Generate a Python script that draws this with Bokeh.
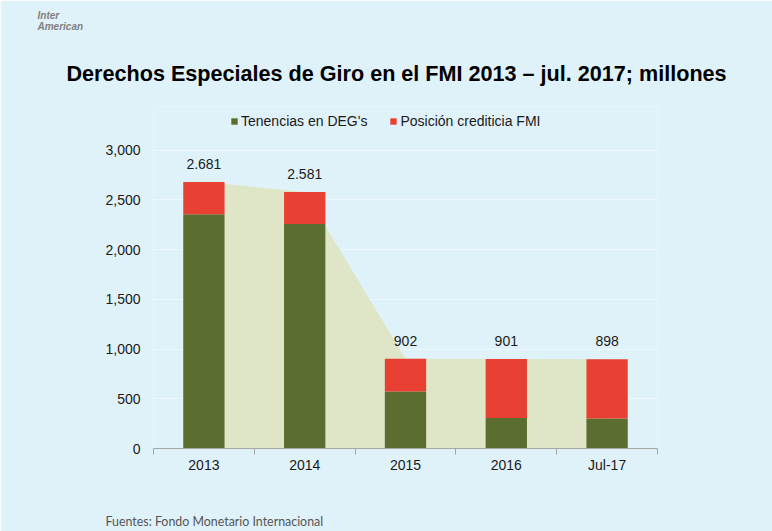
from bokeh.plotting import figure
from bokeh.models import (Range1d, FixedTicker, NumeralTickFormatter, ColumnDataSource,
                          LabelSet, Title, Legend, LegendItem)
from bokeh.core.properties import value
from bokeh.embed import file_html
from bokeh.resources import INLINE

categories = ["2013", "2014", "2015", "2016", "Jul-17"]
tenencias = [2357, 2257, 573, 307, 303]
posicion = [324, 324, 329, 594, 595]
totals = [2681, 2581, 902, 901, 898]
y_ticks = [0, 500, 1000, 1500, 2000, 2500, 3000]

title_text = "Derechos Especiales de Giro en el FMI 2013 \u2013 jul. 2017; millones"
source_text = "Fuentes: Fondo Monetario Internacional"
logo_text = "Inter\nAmerican"
legend_labels = ["Tenencias en DEG's", "Posición crediticia FMI"]

BG = "#e0f2f9"
GREEN = "#5b6e2f"
RED = "#e84134"
AREA = "#dfe6c8"
FONT = "Liberation Sans"

xs = [i + 0.5 for i in range(len(categories))]
src = ColumnDataSource(dict(
    x=xs, ten=tenencias, pos=posicion, tot=totals,
    lbl=[f"{t:,}".replace(",", ".") for t in totals],
))

# frame: page x 153..657, y 105..449 (0..3000 spans y 449..149)
p = figure(width=772, height=531, output_backend="svg", toolbar_location=None,
           x_range=Range1d(0, len(categories)), y_range=Range1d(0, 3440),
           min_border_left=153, min_border_right=115, min_border_top=105,
           min_border_bottom=82)
p.background_fill_color = BG
p.border_fill_color = BG
p.outline_line_color = None

# plot's own title -> small logo text (outermost panel)
p.title.text = logo_text
p.title.align = "left"
p.title.offset = -116
p.title.standoff = 14
p.title.text_font = FONT
p.title.text_font_style = "bold italic"
p.title.text_font_size = "10px"
p.title.text_color = "#808080"

p.varea(x="x", y1=0, y2="tot", source=src, fill_color=AREA)
r = p.vbar_stack(["ten", "pos"], x="x", width=0.41, source=src,
                 color=[GREEN, RED], line_color=None)

p.add_layout(LabelSet(x="x", y="tot", text="lbl", source=src, y_offset=18,
                      text_align="center", text_baseline="middle",
                      text_font=value(FONT), text_font_size="14px", text_color="#1a1a1a"))

xa = p.xaxis[0]
xa.ticker = FixedTicker(ticks=xs, minor_ticks=list(range(len(categories) + 1)))
xa.major_label_overrides = {x: c for x, c in zip(xs, categories)}
xa.axis_line_color = "#a6a6a6"
xa.major_tick_line_color = None
xa.major_tick_out = 0
xa.major_tick_in = 0
xa.minor_tick_line_color = "#a6a6a6"
xa.minor_tick_out = 6
xa.minor_tick_in = 0
xa.major_label_standoff = 2
xa.major_label_text_font = FONT
xa.major_label_text_font_size = "14px"
xa.major_label_text_color = "#1a1a1a"
# blank axis label only reserves room so the source note sits near the bottom
xa.axis_label = " "
xa.axis_label_standoff = 16
xa.axis_label_text_font_size = "12px"

ya = p.yaxis[0]
ya.ticker = FixedTicker(ticks=y_ticks)
ya.formatter = NumeralTickFormatter(format="0,0")
ya.axis_line_color = None
ya.major_tick_line_color = None
ya.minor_tick_line_color = None
ya.major_tick_out = 0
ya.major_label_standoff = 13
ya.major_label_text_font = FONT
ya.major_label_text_font_size = "14px"
ya.major_label_text_color = "#1a1a1a"

p.xgrid.grid_line_color = None
p.ygrid.grid_line_color = "white"
p.ygrid.grid_line_dash = "1 1"

legend = Legend(items=[LegendItem(label=legend_labels[0], renderers=[r[0]]),
                       LegendItem(label=legend_labels[1], renderers=[r[1]])],
                location=(77, 319), orientation="horizontal",
                glyph_width=8, glyph_height=8, label_standoff=3, spacing=22,
                padding=0, margin=0, border_line_color=None,
                background_fill_alpha=0,
                label_text_font=FONT, label_text_font_size="14px",
                label_text_color="#1a1a1a")
p.add_layout(legend, "center")

# main title: panel nearest the frame
p.add_layout(Title(text=title_text, align="left", offset=-87, standoff=41,
                   text_font=FONT, text_font_style="bold", text_font_size="21.6px",
                   text_color="black"), "above")

p.add_layout(Title(text=source_text, align="left", offset=-48, standoff=6,
                   text_font="Lato", text_font_style="normal", text_font_size="12.4px",
                   text_color="#555555"), "below")

open("out.html", "w").write(file_html(p, INLINE))
